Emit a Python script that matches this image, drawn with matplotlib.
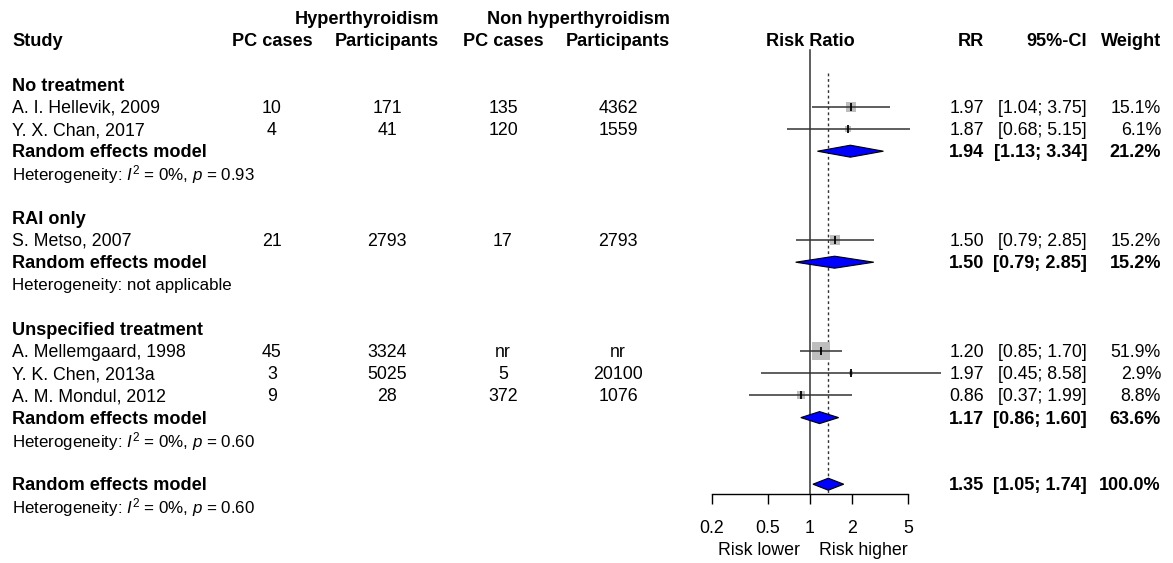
import numpy as np
import matplotlib
matplotlib.use("Agg")
import matplotlib.pyplot as plt
from matplotlib.patches import Polygon

plt.rcParams['font.family'] = ['Liberation Sans', 'DejaVu Sans']
plt.rcParams['mathtext.fontset'] = 'custom'
plt.rcParams['mathtext.rm'] = 'Liberation Sans'
plt.rcParams['mathtext.it'] = 'Liberation Sans:italic'
plt.rcParams['mathtext.bf'] = 'Liberation Sans:bold'

# ---------------- data ----------------
groups = ["No treatment", "RAI only", "Unspecified treatment"]
studies = [
    ["A. I. Hellevik, 2009", "Y. X. Chan, 2017"],
    ["S. Metso, 2007"],
    ["A. Mellemgaard, 1998", "Y. K. Chen, 2013a", "A. M. Mondul, 2012"],
]
hyper_cases = [["10", "4"], ["21"], ["45", "3", "9"]]
hyper_total = [["171", "41"], ["2793"], ["3324", "5025", "28"]]
non_cases = [["135", "120"], ["17"], ["nr", "5", "372"]]
non_total = [["4362", "1559"], ["2793"], ["nr", "20100", "1076"]]
rr = [[1.97, 1.87], [1.50], [1.20, 1.97, 0.86]]
ci_lo = [[1.04, 0.68], [0.79], [0.85, 0.45, 0.37]]
ci_hi = [[3.75, 5.15], [2.85], [1.70, 8.58, 1.99]]
weight = [[15.1, 6.1], [15.2], [51.9, 2.9, 8.8]]

sub_rr = [1.94, 1.50, 1.17]
sub_lo = [1.13, 0.79, 0.86]
sub_hi = [3.34, 2.85, 1.60]
sub_w = [21.2, 15.2, 63.6]
sub_het = [r"Heterogeneity: $\mathit{I}^2$ = 0%, $\mathit{p}$ = 0.93",
           "Heterogeneity: not applicable",
           r"Heterogeneity: $\mathit{I}^2$ = 0%, $\mathit{p}$ = 0.60"]

tot_rr, tot_lo, tot_hi, tot_w = 1.35, 1.05, 1.74, 100.0
tot_het = r"Heterogeneity: $\mathit{I}^2$ = 0%, $\mathit{p}$ = 0.60"

xticks = [0.2, 0.5, 1, 2, 5]
xticklabels = ["0.2", "0.5", "1", "2", "5"]

# ---------------- layout ----------------
W, H = 1173, 563
fig = plt.figure(figsize=(W / 100, H / 100), dpi=100)
main = fig.add_axes([0, 0, 1, 1])
main.set_xlim(0, W)
main.set_ylim(H, 0)
main.axis('off')

AX_BOTTOM = 494
fax = fig.add_axes([712 / W, (H - AX_BOTTOM) / H, 196 / W, AX_BOTTOM / H])
fax.set_xscale('log')
fax.set_xlim(0.2, 5)
fax.set_ylim(AX_BOTTOM, 0)
fax.patch.set_alpha(0)
for s in ['top', 'left', 'right']:
    fax.spines[s].set_visible(False)
fax.spines['bottom'].set_bounds(0.2, 5)
fax.spines['bottom'].set_linewidth(1.0)
fax.set_yticks([])
fax.set_xticks(xticks)
fax.set_xticklabels(xticklabels)
fax.minorticks_off()
fax.tick_params(axis='x', direction='out', length=7.5, width=1.0, pad=11,
                labelsize=12.8, colors='black')

FS = 12.8
FS_BOLD = 13.1
FS_HET = 12.2
DY = 1.5
C_X = {'study': 12, 'hc': 272, 'ht': 387, 'nc': 503, 'nt': 618,
       'rr': 984, 'ci': 1087, 'w': 1161}


def row_y(k):
    return 18 + 22.2 * k


def txt(x, y, s, ha='left', bold=False, fs=None):
    if fs is None:
        fs = FS_BOLD if bold else FS
    main.text(x, y + DY, s, ha=ha, va='center', fontsize=fs,
              fontweight='bold' if bold else 'normal', color='black')


# headers
txt(439, row_y(0), "Hyperthyroidism", ha='right', bold=True)
txt(670, row_y(0), "Non hyperthyroidism", ha='right', bold=True)
txt(C_X['study'], row_y(1), "Study", bold=True)
txt(C_X['hc'], row_y(1), "PC cases", ha='center', bold=True)
txt(C_X['ht'], row_y(1), "Participants", ha='center', bold=True)
txt(C_X['nc'], row_y(1), "PC cases", ha='center', bold=True)
txt(C_X['nt'], row_y(1), "Participants", ha='center', bold=True)
txt(810, row_y(1), "Risk Ratio", ha='center', bold=True)
txt(C_X['rr'], row_y(1), "RR", ha='right', bold=True)
txt(C_X['ci'], row_y(1), "95%-CI", ha='right', bold=True)
txt(C_X['w'], row_y(1), "Weight", ha='right', bold=True)

LINE_C = '#333333'
DIAMOND_HALF = 6.0


def diamond(y, est, lo, hi):
    poly = Polygon([[lo, y], [est, y - DIAMOND_HALF], [hi, y], [est, y + DIAMOND_HALF]],
                   closed=True, facecolor='#0000ff', edgecolor='black', lw=0.8,
                   zorder=5, clip_on=False)
    fax.add_patch(poly)


k = 3
for g in range(len(groups)):
    txt(C_X['study'], row_y(k), groups[g], bold=True)
    k += 1
    for i in range(len(studies[g])):
        y = row_y(k)
        txt(C_X['study'], y, studies[g][i])
        txt(C_X['hc'], y, hyper_cases[g][i], ha='center')
        txt(C_X['ht'], y, hyper_total[g][i], ha='center')
        txt(C_X['nc'], y, non_cases[g][i], ha='center')
        txt(C_X['nt'], y, non_total[g][i], ha='center')
        txt(C_X['rr'], y, f"{rr[g][i]:.2f}", ha='right')
        txt(C_X['ci'], y, f"[{ci_lo[g][i]:.2f}; {ci_hi[g][i]:.2f}]", ha='right')
        txt(C_X['w'], y, f"{weight[g][i]:.1f}%", ha='right')
        side_px = 2.5 * np.sqrt(weight[g][i])
        fax.plot([rr[g][i]], [y], marker='s', markersize=side_px * 0.72,
                 color='#bebebe', markeredgewidth=0, zorder=3, clip_on=False)
        fax.plot([ci_lo[g][i], ci_hi[g][i]], [y, y], color=LINE_C, lw=1.1,
                 zorder=4, clip_on=False, solid_capstyle='butt')
        fax.plot([rr[g][i]], [y], marker='|', markersize=5.5, color='black',
                 markeredgewidth=1.3, zorder=6, clip_on=False)
        k += 1
    y = row_y(k)
    txt(C_X['study'], y, "Random effects model", bold=True)
    txt(C_X['rr'], y, f"{sub_rr[g]:.2f}", ha='right', bold=True)
    txt(C_X['ci'], y, f"[{sub_lo[g]:.2f}; {sub_hi[g]:.2f}]", ha='right', bold=True)
    txt(C_X['w'], y, f"{sub_w[g]:.1f}%", ha='right', bold=True)
    diamond(y, sub_rr[g], sub_lo[g], sub_hi[g])
    k += 1
    txt(C_X['study'], row_y(k), sub_het[g], fs=FS_HET)
    k += 2

y = row_y(21)
txt(C_X['study'], y, "Random effects model", bold=True)
txt(C_X['rr'], y, f"{tot_rr:.2f}", ha='right', bold=True)
txt(C_X['ci'], y, f"[{tot_lo:.2f}; {tot_hi:.2f}]", ha='right', bold=True)
txt(C_X['w'], y, f"{tot_w:.1f}%", ha='right', bold=True)
diamond(y, tot_rr, tot_lo, tot_hi)
txt(C_X['study'], row_y(22), tot_het, fs=FS_HET)

# reference lines
fax.plot([1, 1], [50, AX_BOTTOM], color=LINE_C, lw=1.1, zorder=2, clip_on=False)
fax.plot([tot_rr, tot_rr], [73, AX_BOTTOM], color=LINE_C, lw=1.0,
         linestyle=(0, (2, 2)), zorder=2, clip_on=False)

txt(800, 549, "Risk lower", ha='right')
txt(819, 549, "Risk higher", ha='left')

fig.savefig("out.png", dpi=100)
